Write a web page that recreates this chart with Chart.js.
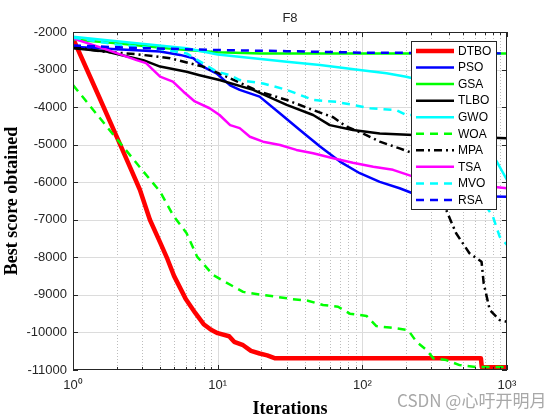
<!DOCTYPE html>
<html>
<head>
<meta charset="utf-8">
<script src="https://cdn.jsdelivr.net/npm/chart.js@4.4.0/dist/chart.umd.min.js"></script>
<style>
  body { margin: 0; background: #fff; }
  #wrap { width: 560px; height: 420px; }
</style>
</head>
<body>
<div id="wrap"><canvas id="myChart" width="560" height="420"></canvas></div>
<script>
// convergence curves (iteration, best score)
var names = ['DTBO', 'PSO', 'GSA', 'TLBO', 'GWO', 'WOA', 'MPA', 'TSA', 'MVO', 'RSA'];

var dtboIt  = [1, 1.5, 2, 2.5, 2.9, 3.4, 4, 4.5, 5, 6, 7, 8, 9, 10, 12, 13, 15, 17, 19.5, 22, 25, 660, 670, 1000];
var dtboVal = [-2170, -3690, -4780, -5630, -6200, -7000, -7600, -8050, -8500, -9100, -9480, -9780, -9930, -10020, -10100, -10250, -10340, -10490, -10560, -10610, -10690, -10690, -10930, -10930];

var psoIt  = [1, 2, 4, 5.5, 6.8, 7.9, 9.8, 12.2, 14.2, 19.5, 27, 37, 51, 70, 96, 132, 181, 225, 400, 1000];
var psoVal = [-2390, -2460, -2520, -2610, -2700, -2920, -3100, -3420, -3540, -3720, -4170, -4610, -5050, -5450, -5760, -5990, -6160, -6300, -6360, -6390];

var gsaIt  = [1, 2, 5, 10, 20, 1000];
var gsaVal = [-2200, -2300, -2450, -2540, -2570, -2570];

var tlboIt  = [1, 1.7, 3.06, 4, 6.1, 7.5, 10.3, 17.6, 30, 45.7, 59.6, 86, 132, 225, 1000];
var tlboVal = [-2435, -2520, -2750, -2920, -3060, -3150, -3280, -3540, -3940, -4210, -4480, -4610, -4700, -4740, -4830];

var gwoIt  = [1, 2.75, 6.1, 10, 30, 51, 96, 147, 201, 250, 300, 400, 500, 600, 700, 850, 1000];
var gwoVal = [-2125, -2300, -2435, -2600, -2790, -2880, -3010, -3100, -3190, -3280, -3400, -3700, -4100, -4500, -4900, -5450, -5940];

var woaIt  = [1, 2, 3, 4, 4.9, 6.1, 7.2, 9.3, 11.2, 15, 19.5, 25.5, 32.5, 42, 53.5, 68, 82, 107, 125, 155, 207, 237, 278, 310, 380, 470, 612, 1000];
var woaVal = [-3410, -4840, -5670, -6250, -6870, -7360, -7980, -8470, -8650, -8920, -8990, -9050, -9110, -9155, -9270, -9315, -9500, -9560, -9830, -9870, -9935, -10250, -10470, -10690, -10735, -10870, -10920, -10920];

var mpaIt  = [1, 1.6, 2.75, 4.7, 7.9, 11.5, 19.5, 30, 45.7, 62.9, 77.7, 101, 132, 181, 225, 300, 380, 445, 550, 667, 690, 760, 890, 1000];
var mpaVal = [-2400, -2520, -2590, -2700, -2920, -3190, -3590, -3810, -4080, -4270, -4520, -4700, -4920, -5100, -5230, -5900, -6740, -7360, -7890, -8120, -8690, -9400, -9670, -9715];

var tsaIt  = [1, 1.6, 2.75, 3.2, 4, 4.9, 5.8, 6.95, 8.8, 10.3, 12.2, 14.2, 16.7, 20.6, 27, 35, 45.7, 62.9, 86, 119, 163, 225, 400, 1000];
var tsaVal = [-2170, -2430, -2750, -2830, -3190, -3320, -3590, -3850, -4030, -4210, -4480, -4560, -4790, -4920, -5010, -5140, -5230, -5360, -5480, -5590, -5670, -5850, -6000, -6160];

var mvoIt  = [1, 2, 4, 6.1, 7.9, 9.8, 12.2, 14.2, 20.6, 30, 45.7, 66, 86, 113, 172, 201, 250, 300, 400, 500, 600, 720, 800, 890, 1000];
var mvoVal = [-2150, -2330, -2450, -2570, -2830, -3050, -3150, -3280, -3370, -3540, -3810, -3860, -3940, -4030, -4080, -4210, -4210, -4300, -4700, -5400, -6200, -6650, -6920, -7450, -7670];

var rsaIt  = [1, 3, 10, 30, 100, 1000];
var rsaVal = [-2360, -2430, -2480, -2510, -2550, -2570];

var yTicks = [-11000, -10000, -9000, -8000, -7000, -6000, -5000, -4000, -3000, -2000];
var xDecades = [1, 10, 100, 1000];

function pts(it, val) {
    return it.map(function (x, i) { return { x: x, y: val[i] }; });
}

var seriesIt  = [dtboIt, psoIt, gsaIt, tlboIt, gwoIt, woaIt, mpaIt, tsaIt, mvoIt, rsaIt];
var seriesVal = [dtboVal, psoVal, gsaVal, tlboVal, gwoVal, woaVal, mpaVal, tsaVal, mvoVal, rsaVal];
var colors = ['#ff0000', '#0000ff', '#00ff00', '#000000', '#00ffff', '#00ff00', '#000000', '#ff00ff', '#00ffff', '#0000ff'];
var dashes = [[], [], [], [], [], [8, 6], [8, 4, 2, 4], [], [8, 6], [8, 6]];
var widths = [4.5, 2.5, 2.5, 2.5, 2.5, 2.5, 2.5, 2.5, 2.5, 2.5];

var datasets = names.map(function (n, i) {
    return {
        label: n,
        data: pts(seriesIt[i], seriesVal[i]),
        borderColor: colors[i],
        borderWidth: widths[i],
        borderDash: dashes[i],
        borderJoinStyle: 'round',
        pointRadius: 0,
        tension: 0,
        fill: false,
        order: 10 - i
    };
});

var sup = ['\u2070', '\u00b9', '\u00b2', '\u00b3'];

// grid, frame, legend, title drawn in MATLAB style
var matlabLook = {
    id: 'matlabLook',
    beforeDatasetsDraw: function (chart) {
        var ctx = chart.ctx, ca = chart.chartArea;
        var xs = chart.scales.x, ys = chart.scales.y;
        ctx.save();
        ctx.lineWidth = 1;
        // minor dotted x grid
        ctx.strokeStyle = '#bdbdbd';
        ctx.setLineDash([1, 2]);
        for (var d = 0; d < 3; d++) {
            for (var k = 2; k <= 9; k++) {
                var px = Math.round(xs.getPixelForValue(k * Math.pow(10, d))) + 0.5;
                ctx.beginPath(); ctx.moveTo(px, ca.top); ctx.lineTo(px, ca.bottom); ctx.stroke();
            }
        }
        ctx.setLineDash([]);
        ctx.strokeStyle = '#dcdcdc';
        xDecades.slice(1, -1).forEach(function (v) {
            var px = Math.round(xs.getPixelForValue(v)) + 0.5;
            ctx.beginPath(); ctx.moveTo(px, ca.top); ctx.lineTo(px, ca.bottom); ctx.stroke();
        });
        yTicks.slice(1, -1).forEach(function (v) {
            var py = Math.round(ys.getPixelForValue(v)) + 0.5;
            ctx.beginPath(); ctx.moveTo(ca.left, py); ctx.lineTo(ca.right, py); ctx.stroke();
        });
        ctx.restore();
    },
    afterDatasetsDraw: function (chart) {
        var ctx = chart.ctx, ca = chart.chartArea;
        var xs = chart.scales.x, ys = chart.scales.y;
        ctx.save();
        ctx.strokeStyle = '#262626';
        ctx.lineWidth = 1;
        ctx.setLineDash([]);
        // inward ticks
        for (var d = 0; d < 3; d++) {
            for (var k = 1; k <= 10; k++) {
                var px = Math.round(xs.getPixelForValue(k * Math.pow(10, d))) + 0.5;
                var len = (k === 1 || k === 10) ? 5 : 3;
                ctx.beginPath();
                ctx.moveTo(px, ca.bottom); ctx.lineTo(px, ca.bottom - len);
                ctx.moveTo(px, ca.top); ctx.lineTo(px, ca.top + len);
                ctx.stroke();
            }
        }
        yTicks.forEach(function (v) {
            var py = Math.round(ys.getPixelForValue(v)) + 0.5;
            ctx.beginPath();
            ctx.moveTo(ca.left, py); ctx.lineTo(ca.left + 5, py);
            ctx.moveTo(ca.right, py); ctx.lineTo(ca.right - 5, py);
            ctx.stroke();
        });
        ctx.strokeRect(Math.round(ca.left) + 0.5, Math.round(ca.top) + 0.5,
                       Math.round(ca.right - ca.left) - 1, Math.round(ca.bottom - ca.top) - 1);

        // legend box
        var lx = 411.5, ly = 41.5, lw = 85, lh = 168;
        ctx.fillStyle = '#ffffff';
        ctx.fillRect(lx, ly, lw, lh);
        ctx.strokeStyle = '#262626';
        ctx.strokeRect(lx, ly, lw, lh);
        ctx.font = '12px "Liberation Sans", Arial, sans-serif';
        ctx.textBaseline = 'middle';
        chart.data.datasets.forEach(function (ds, i) {
            var y = 51 + i * 16.55;
            ctx.strokeStyle = ds.borderColor;
            ctx.lineWidth = ds.borderWidth;
            ctx.setLineDash(ds.borderDash);
            ctx.beginPath(); ctx.moveTo(416, y); ctx.lineTo(454, y); ctx.stroke();
            ctx.setLineDash([]);
            ctx.fillStyle = '#000000';
            ctx.fillText(ds.label, 458, y + 0.5);
        });
        ctx.restore();
    },
    afterDraw: function (chart) {
        var ctx = chart.ctx, ca = chart.chartArea;
        ctx.save();
        ctx.fillStyle = '#262626';
        ctx.font = '13px "Liberation Sans", Arial, sans-serif';
        ctx.textAlign = 'center';
        ctx.textBaseline = 'middle';
        ctx.fillText('F8', (ca.left + ca.right) / 2, 18);
        // watermark
        ctx.fillStyle = '#a8a8a8';
        ctx.font = '17px "Noto Sans CJK SC", "Liberation Sans", sans-serif';
        ctx.textAlign = 'left';
        ctx.fillText('CSDN @\u5fc3\u5401\u5f00\u660e\u6708', 397, 401);
        ctx.restore();
    }
};

var ctx = document.getElementById('myChart');
var myChart = new Chart(ctx, {
    type: 'line',
    data: { datasets: datasets },
    plugins: [matlabLook],
    options: {
        responsive: false,
        maintainAspectRatio: false,
        animation: false,
        devicePixelRatio: 1,
        layout: { padding: { top: 32, right: 53, left: 0, bottom: 0 } },
        plugins: { legend: { display: false }, tooltip: { enabled: false }, title: { display: false } },
        scales: {
            x: {
                type: 'logarithmic',
                min: 1,
                max: 1000,
                grid: { display: false, drawTicks: false },
                border: { display: false },
                ticks: {
                    autoSkip: false,
                    maxRotation: 0,
                    padding: 8,
                    color: '#262626',
                    font: { family: '"Liberation Sans", Arial, sans-serif', size: 13 },
                    callback: function (value) {
                        var l = Math.log10(value);
                        if (Math.abs(l - Math.round(l)) < 1e-9) return '10' + sup[Math.round(l)];
                        return '';
                    }
                },
                title: {
                    display: true,
                    text: 'Iterations',
                    color: '#000000',
                    font: { family: '"Liberation Serif", "Times New Roman", serif', size: 18, weight: 'bold' },
                    padding: { top: 0, bottom: 0 }
                },
                afterFit: function (s) { s.height = 50; }
            },
            y: {
                type: 'linear',
                min: -11000,
                max: -2000,
                grid: { display: false, drawTicks: false },
                border: { display: false },
                ticks: {
                    stepSize: 1000,
                    padding: 6,
                    color: '#262626',
                    font: { family: '"Liberation Sans", Arial, sans-serif', size: 13 },
                    callback: function (v) { return String(v); }
                },
                title: {
                    display: true,
                    text: 'Best score obtained',
                    color: '#000000',
                    font: { family: '"Liberation Serif", "Times New Roman", serif', size: 18, weight: 'bold' },
                    padding: { top: 2, bottom: 0 }
                },
                afterFit: function (s) { s.width = 73; }
            }
        }
    }
});
</script>
</body>
</html>
